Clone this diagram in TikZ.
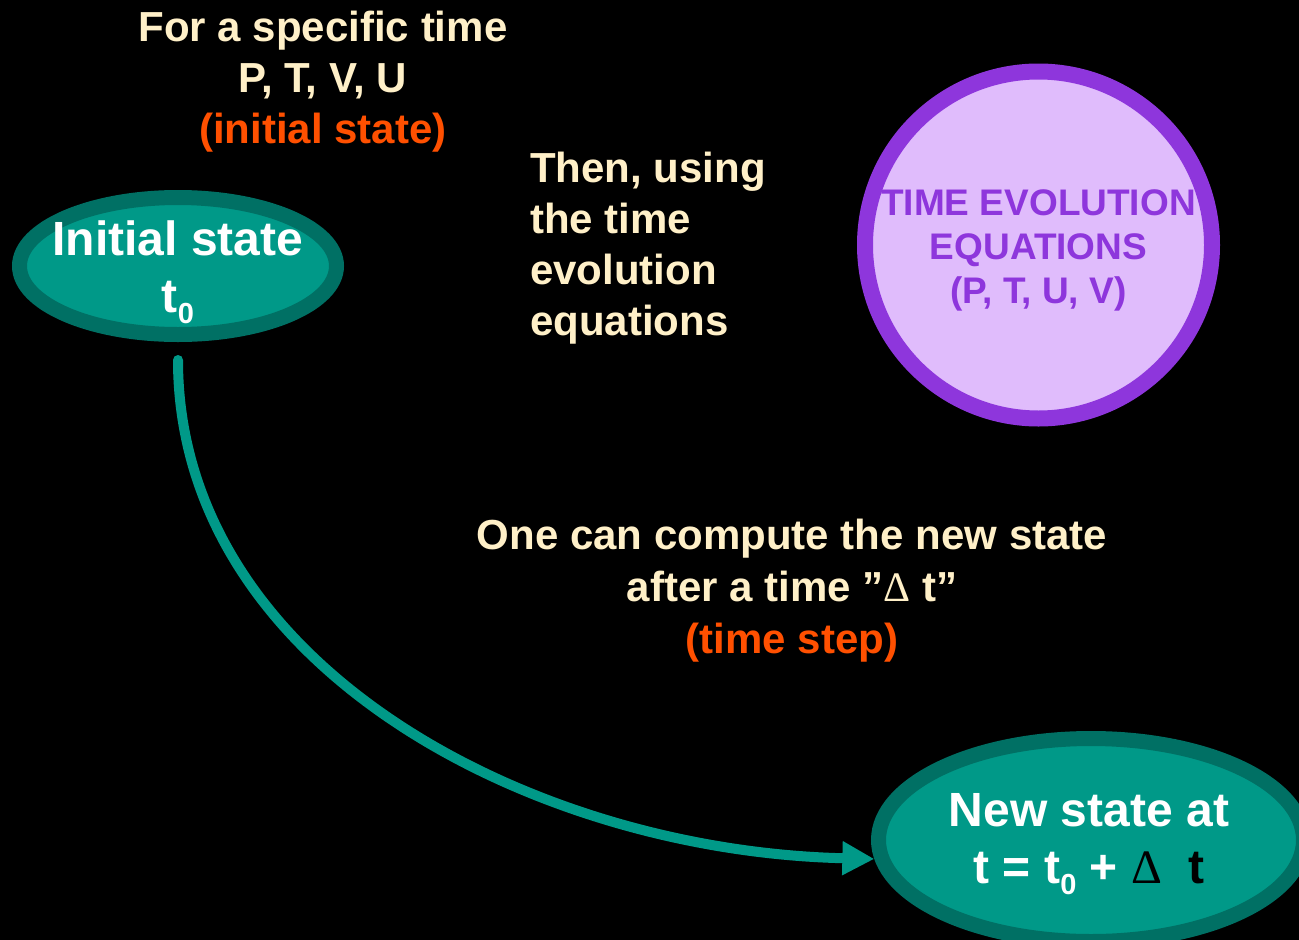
\documentclass[tikz,border=0pt]{standalone}
\usepackage{fontspec}
\setmainfont{Liberation Sans}
\newfontfamily\deltafont{Liberation Serif}
\usetikzlibrary{arrows.meta,shapes.geometric,calc}
\definecolor{tealfill}{RGB}{0,153,136}
\definecolor{tealedge}{RGB}{0,112,100}
\definecolor{purp}{RGB}{142,54,220}
\definecolor{lilac}{RGB}{224,188,252}
\definecolor{cream}{RGB}{255,240,200}
\definecolor{orng}{RGB}{255,80,0}
\newcommand{\sz}[2]{\fontsize{#1}{#2}\selectfont}
\newcommand{\lowsub}[1]{\raisebox{-11pt}{\fontsize{29}{29}\selectfont #1}}
\newcommand{\dlt}{{\deltafont\mdseries Δ}}
\begin{document}
\begin{tikzpicture}[x=1pt,y=-1pt,
  stateshape/.style={ellipse, draw=tealedge, fill=tealfill, line width=15pt, inner sep=0pt},
  statetext/.style={align=center, text=white, font=\bfseries\sz{48}{57}, inner sep=0pt},
  note/.style={align=center, text=cream, font=\bfseries\sz{42}{51}, inner sep=0pt},
  eqcircle/.style={circle, draw=purp, fill=lilac, line width=16pt, inner sep=0pt,
    minimum size=347pt, align=center, text=purp, font=\bfseries\sz{37}{44}},
  flow/.style={draw=tealfill, line width=10pt, line cap=round,
    -{Triangle[length=32pt,width=32pt]}}
]
\useasboundingbox (0,0) rectangle (1299,940);
\fill[black] (0,0) rectangle (1299,940);

% top note
\node[note] (top) at (323,82) {For a specific time\\P, T, V, U\\\textcolor{orng}{(initial state)}};

% then note
\node[note, align=left, anchor=west] (then) at (530,248.5) {Then, using\\the time\\evolution\\equations};

% compute note
\node[note, font=\bfseries\sz{42}{52}] (compute) at (792,591)
  {One can compute the new state\\after a time ”\dlt{} t”\\\textcolor{orng}{(time step)}};

% equations circle
\node[eqcircle] (eq) at (1038.5,245) {\rule{0pt}{37pt}TIME EVOLUTION\\EQUATIONS\\(P, T, U, V)};

% initial state
\node[stateshape, minimum width=317pt, minimum height=137pt] (init) at (178,266) {};
\node[statetext] (initlabel) at (178,272) {Initial state\\t\lowsub{0}};

% new state
\node[stateshape, minimum width=425pt, minimum height=203pt] (new) at (1091,840) {};
\node[statetext] (newlabel) at (1089,844)
  {New state at\\t = t\lowsub{0} + \textcolor{black}{\dlt\hspace{0.55em}t}};

% connector
\draw[flow] ($(init.south)+(0,18)$) .. controls +(0,305) and +(-345,-8) .. (new.185);
\end{tikzpicture}
\end{document}
